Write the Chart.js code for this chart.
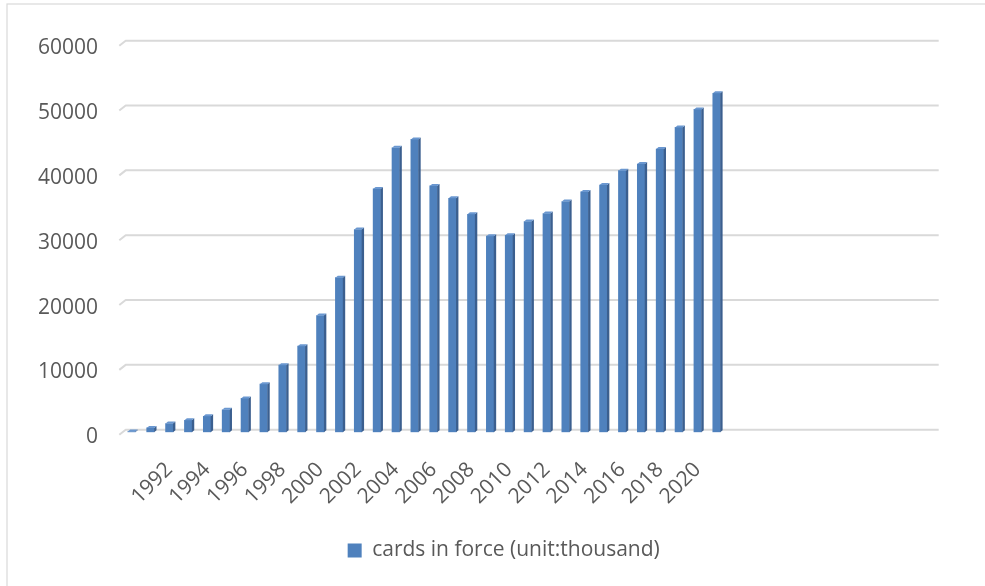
<!DOCTYPE html>
<html>
<head>
<meta charset="utf-8">
<script src="https://cdn.jsdelivr.net/npm/chart.js@4/dist/chart.umd.min.js"></script>
<style>
  html, body { margin: 0; padding: 0; background: #ffffff; }
  #wrap { width: 985px; height: 586px; position: relative; }
</style>
</head>
<body>
<div id="wrap"><canvas id="chart"></canvas></div>
<script>
// Categories: one per year on the axis (the later years carry no data yet)
const years = [
  '1990','1991','1992','1993','1994','1995','1996','1997','1998','1999',
  '2000','2001','2002','2003','2004','2005','2006','2007','2008','2009',
  '2010','2011','2012','2013','2014','2015','2016','2017','2018','2019',
  '2020','2021','2022','2023','2024','2025','2026','2027','2028','2029',
  '2030','2031','2032'
];

// Cards in force, in thousands, 1990 to 2021
const cardsInForce = [
  120, 680, 1350, 1850, 2460, 3480, 5230, 7430, 10350, 13280,
  18000, 23850, 31280, 37540, 43890, 45170, 38000, 36090, 33630, 30250,
  30400, 32510, 33740, 35580, 37080, 38150, 40350, 41380, 43690, 47020,
  49800, 52300
];

// Labels printed under the category axis
const tickLabels = [
  '', '', '1992', '', '1994', '', '1996', '', '1998', '',
  '2000', '', '2002', '', '2004', '', '2006', '', '2008', '',
  '2010', '', '2012', '', '2014', '', '2016', '', '2018', '',
  '2020', '', '', '', '', '', '', '', '', '',
  '', '', ''
];

const seriesName = 'cards in force (unit:thousand)';

const FONT = '"Open Sans", "DejaVu Sans", sans-serif';
const TEXT = '#595959';
const GRID = '#d9d9d9';
const FRONT = '#4f81bd';
const SIDE = '#3b5f8f';
const CAP = '#6a97d0';
const DEPTH_X = 2.4, DEPTH_Y = 2;

// Outer frame of the chart object
const framePlugin = {
  id: 'frame',
  beforeDraw(chart) {
    const ctx = chart.ctx;
    ctx.save();
    ctx.strokeStyle = GRID;
    ctx.lineWidth = 1.2;
    ctx.strokeRect(7, 4, chart.width + 20, chart.height + 20);
    ctx.restore();
  }
};

// Back-wall gridlines with a short floor edge on the left
const wallGridPlugin = {
  id: 'wallGrid',
  beforeDatasetsDraw(chart) {
    const { ctx, chartArea, scales } = chart;
    const y = scales.y;
    ctx.save();
    ctx.strokeStyle = GRID;
    ctx.lineWidth = 2;
    ctx.lineJoin = 'round';
    y.ticks.forEach(t => {
      const gy = y.getPixelForValue(t.value) - 2.6;
      ctx.beginPath();
      ctx.moveTo(chartArea.left - 2.8, gy + 5);
      ctx.lineTo(chartArea.left + 3.6, gy);
      ctx.lineTo(chartArea.right + 5.2, gy);
      ctx.stroke();
    });
    ctx.restore();
  }
};

// Side face and top cap on each column for a shallow 3-D look
const columnDepthPlugin = {
  id: 'columnDepth',
  afterDatasetsDraw(chart) {
    const ctx = chart.ctx;
    const meta = chart.getDatasetMeta(0);
    ctx.save();
    meta.data.forEach(bar => {
      const { x, y, base, width } = bar.getProps(['x', 'y', 'base', 'width'], true);
      if (y == null || isNaN(y)) return;
      const l = x - width / 2, r = x + width / 2;
      ctx.fillStyle = SIDE;
      ctx.beginPath();
      ctx.moveTo(r, y);
      ctx.lineTo(r + DEPTH_X, y - DEPTH_Y);
      ctx.lineTo(r + DEPTH_X, base - DEPTH_Y);
      ctx.lineTo(r, base);
      ctx.closePath();
      ctx.fill();
      ctx.fillStyle = CAP;
      ctx.beginPath();
      ctx.moveTo(l, y);
      ctx.lineTo(l + DEPTH_X, y - DEPTH_Y);
      ctx.lineTo(r + DEPTH_X, y - DEPTH_Y);
      ctx.lineTo(r, y);
      ctx.closePath();
      ctx.fill();
    });
    ctx.restore();
  }
};

// Centre the legend under the whole chart object rather than the canvas
const legendShiftPlugin = {
  id: 'legendShift',
  afterLayout(chart) {
    const lg = chart.legend;
    if (!lg) return;
    const dx = 503.7 - (lg.left + lg.right) / 2;
    lg.left += dx;
    lg.right += dx;
  }
};

new Chart(document.getElementById('chart'), {
  type: 'bar',
  data: {
    labels: years,
    datasets: [{
      label: seriesName,
      data: cardsInForce,
      backgroundColor: FRONT,
      borderWidth: 0,
      barThickness: 7.4
    }]
  },
  options: {
    responsive: true,
    maintainAspectRatio: false,
    animation: false,
    layout: { padding: { top: 43.3, left: 0, right: 51.5, bottom: 15 } },
    plugins: {
      legend: {
        position: 'bottom',
        labels: {
          color: TEXT,
          font: { family: FONT, size: 21 },
          boxWidth: 14,
          boxHeight: 14,
          padding: 10
        }
      },
      tooltip: { enabled: false }
    },
    scales: {
      x: {
        grid: { display: false },
        border: { display: false },
        ticks: {
          color: TEXT,
          font: { family: FONT, size: 21 },
          autoSkip: false,
          maxRotation: 45,
          minRotation: 45,
          padding: 17,
          callback: (value, index) => tickLabels[index]
        },
        afterFit(scale) { scale.height = 97.7; }
      },
      y: {
        min: 0,
        max: 60000,
        grid: { display: false, drawTicks: false },
        border: { display: false },
        ticks: {
          stepSize: 10000,
          color: TEXT,
          font: { family: FONT, size: 21 },
          padding: 24,
          labelOffset: 5,
          callback: value => String(value)
        },
        afterFit(scale) { scale.width = 122.1; }
      }
    }
  },
  plugins: [framePlugin, wallGridPlugin, columnDepthPlugin, legendShiftPlugin]
});
</script>
</body>
</html>
